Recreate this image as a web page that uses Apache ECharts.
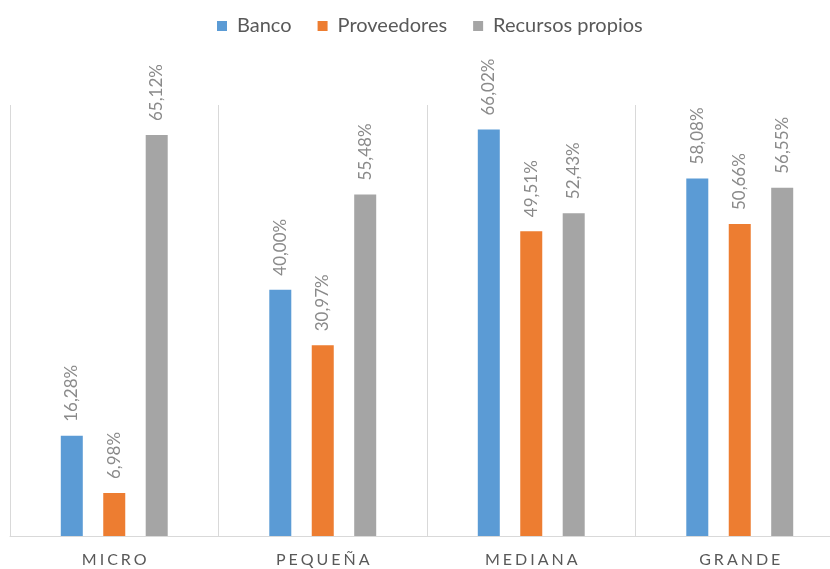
<!DOCTYPE html>
<html>
<head>
<meta charset="utf-8">
<script src="https://cdn.jsdelivr.net/npm/echarts@6/dist/echarts.min.js"></script>
<style>
  html, body { margin: 0; padding: 0; background: #fff; overflow: hidden; }
  #chart { width: 854px; height: 569px; }
</style>
</head>
<body>
<div id="chart"></div>
<script>
// Company size categories
const categories = ['MICRO', 'PEQUEÑA', 'MEDIANA', 'GRANDE'];
// Share of companies using each financing source (%)
const banco = [16.28, 40.00, 66.02, 58.08];
const proveedores = [6.98, 30.97, 49.51, 50.66];
const recursosPropios = [65.12, 55.48, 52.43, 56.55];

const seriesNames = ['Banco', 'Proveedores', 'Recursos propios'];
const seriesColors = ['#5B9BD5', '#ED7D31', '#A5A5A5'];
const seriesData = [banco, proveedores, recursosPropios];

const fontFamily = "Lato, 'Open Sans', sans-serif";

const fmtPct = v => v.toFixed(2).replace('.', ',') + '%';

const chart = echarts.init(document.getElementById('chart'));
chart.setOption({
  animation: false,
  legend: {
    top: 11,
    left: 212,
    itemWidth: 10,
    itemHeight: 10,
    itemGap: 26,
    icon: 'rect',
    textStyle: { fontSize: 20, color: '#595959', fontFamily: fontFamily, padding: [0, 0, 0, 5] }
  },
  grid: { left: 10, right: 10, top: 105, bottom: 33, containLabel: false },
  xAxis: {
    type: 'category',
    data: categories,
    axisTick: { show: false },
    axisLine: { lineStyle: { color: '#d9d9d9', width: 1 } },
    splitLine: { show: true, lineStyle: { color: '#d9d9d9', width: 1 } },
    axisLabel: {
      margin: 16,
      fontSize: 16,
      color: '#595959',
      fontFamily: fontFamily,
      formatter: v => v.split('').join('\u2009\u200A')
    }
  },
  yAxis: {
    type: 'value',
    min: 0,
    max: 70,
    show: false,
    splitLine: { show: false }
  },
  series: seriesData.map((d, i) => ({
    name: seriesNames[i],
    type: 'bar',
    data: d,
    barWidth: 22,
    barGap: '93%',
    itemStyle: { color: seriesColors[i] },
    label: {
      show: true,
      position: 'top',
      rotate: 90,
      align: 'left',
      verticalAlign: 'middle',
      distance: 14,
      fontSize: 17,
      color: '#8a8a8a',
      fontFamily: fontFamily,
      formatter: p => fmtPct(p.value)
    }
  }))
});
</script>
</body>
</html>
